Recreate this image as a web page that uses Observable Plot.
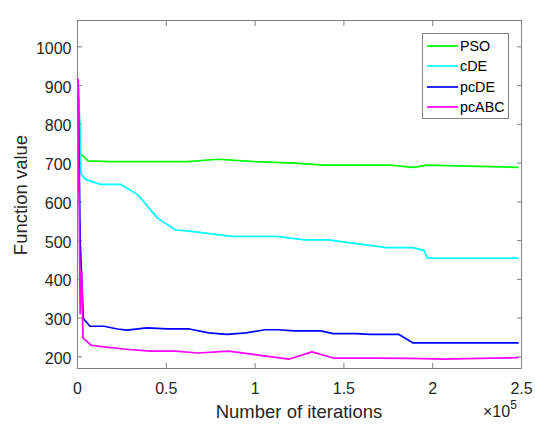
<!DOCTYPE html>
<html>
<head>
<meta charset="utf-8">
<script src="https://cdn.jsdelivr.net/npm/d3@7"></script>
<script src="https://cdn.jsdelivr.net/npm/@observablehq/plot@0.6"></script>
<style>
  body { margin: 0; background: #fff; font-family: Arial, "Liberation Sans", sans-serif; }
  #wrap { position: relative; width: 535px; height: 427px; overflow: hidden; }
  .lbl { position: absolute; color: #262626; white-space: nowrap; transform: translate(-50%, -50%); }
  #ytitle { left: 21px; top: 195px; font-size: 18.5px; transform: translate(-50%, -50%) rotate(-90deg); }
  #xtitle { left: 299px; top: 412px; font-size: 18.5px; }
  #xexp { position: absolute; left: 483px; top: 400px; font-size: 16px; color: #262626; white-space: nowrap; }
  #xexp sup { font-size: 12px; position: relative; top: -2px; }
  #legend { position: absolute; left: 422px; top: 33px; width: 87px; height: 86px; border: 1px solid #808080; background: #fff; box-sizing: border-box; }
  .row { position: absolute; left: 0; height: 20px; display: flex; align-items: center; font-size: 14.3px; color: #000; }
  .row svg { margin-left: 4px; margin-right: 2px; }
</style>
</head>
<body>
<div id="wrap"></div>
<script>
// ---- data (iterations, function value) ----
const seriesNames = ["PSO", "cDE", "pcDE", "pcABC"];
const seriesColors = ["#00ff00", "#00ffff", "#0000ff", "#ff00ff"];

const psoIter  = [500, 1700, 6000, 18000, 62000, 79000, 100000, 122000, 139000, 176000, 189000, 197000, 248000];
const psoValue = [900, 724, 706, 704, 704, 710, 704, 700, 695, 695, 689, 695, 689];

const cdeIter  = [500, 2000, 4500, 13000, 24500, 34000, 45000, 55000, 64000, 87000, 112000, 128000, 141000, 174000, 189000, 195000, 197000, 248000];
const cdeValue = [905, 672, 658, 645, 645, 618, 558, 528, 524, 511, 511, 502, 502, 482, 482, 475, 455, 455];

const pcdeIter  = [500, 1500, 3300, 7000, 15000, 22500, 28000, 39000, 50500, 63000, 74000, 84000, 95000, 105500, 113000, 122000, 137000, 144000, 156500, 165000, 181000, 189000, 248000];
const pcdeValue = [870, 500, 299, 279, 279, 272, 269, 275, 272, 272, 262, 258, 262, 270, 270, 267, 267, 260, 260, 258, 258, 236, 236];

const pcabcIter  = [300, 1500, 2300, 3100, 7700, 15000, 29000, 41000, 55000, 68000, 85000, 100000, 119000, 132000, 144000, 168000, 187000, 207000, 226000, 248000];
const pcabcValue = [917, 312, 419, 249, 230, 226, 219, 215, 215, 210, 215, 206, 194, 213, 197, 197, 196, 194, 196, 198];

const xTicks = [0, 50000, 100000, 150000, 200000, 250000];
const xTickLabels = ["0", "0.5", "1", "1.5", "2", "2.5"];
const yTicks = [200, 300, 400, 500, 600, 700, 800, 900, 1000];

const xDomain = [0, 250000];
const yDomain = [170, 1068];

// ---- build table ----
const seriesIters = [psoIter, cdeIter, pcdeIter, pcabcIter];
const seriesValues = [psoValue, cdeValue, pcdeValue, pcabcValue];
const rows = [];
seriesNames.forEach((name, k) => {
  seriesIters[k].forEach((it, i) => rows.push({series: name, iter: it, value: seriesValues[k][i]}));
});

const font = 'Arial, "Liberation Sans", sans-serif';
const axisColor = "#808080";
const textColor = "#262626";
const fmtX = d => xTickLabels[xTicks.indexOf(d)];
const fmtY = d => String(d);

const chart = Plot.plot({
  width: 535,
  height: 427,
  marginLeft: 77,
  marginRight: 14,
  marginTop: 20,
  marginBottom: 59,
  style: {fontFamily: font, background: "#fff", color: textColor},
  x: {domain: xDomain},
  y: {domain: yDomain},
  color: {domain: seriesNames, range: seriesColors},
  marks: [
    Plot.frame({stroke: axisColor, strokeWidth: 1}),
    // tick labels
    Plot.axisX({anchor: "bottom", ticks: xTicks, tickSize: 0, tickPadding: 14, tickFormat: fmtX, fontSize: 16, fill: textColor, label: null}),
    Plot.axisY({anchor: "left", ticks: yTicks, tickSize: 0, tickPadding: 6, dy: 2, tickFormat: fmtY, fontSize: 16, fill: textColor, label: null}),
    // inward tick marks
    Plot.axisX({anchor: "bottom", ticks: xTicks, tickSize: 5, dy: -5, tickFormat: () => "", stroke: axisColor, label: null}),
    Plot.axisX({anchor: "top", ticks: xTicks, tickSize: 5, dy: 5, tickFormat: () => "", stroke: axisColor, label: null}),
    Plot.axisY({anchor: "left", ticks: yTicks, tickSize: 5, dx: 5, tickFormat: () => "", stroke: axisColor, label: null}),
    Plot.axisY({anchor: "right", ticks: yTicks, tickSize: 5, dx: -5, tickFormat: () => "", stroke: axisColor, label: null}),
    // series
    Plot.line(rows, {x: "iter", y: "value", z: "series", stroke: "series", strokeWidth: 1.7})
  ]
});

const wrap = document.getElementById("wrap");
wrap.appendChild(chart);

// titles
const yt = document.createElement("div");
yt.className = "lbl"; yt.id = "ytitle"; yt.textContent = "Function value";
wrap.appendChild(yt);
const xt = document.createElement("div");
xt.className = "lbl"; xt.id = "xtitle"; xt.textContent = "Number of iterations";
wrap.appendChild(xt);
const xe = document.createElement("div");
xe.id = "xexp"; xe.innerHTML = "×10<sup>5</sup>";
wrap.appendChild(xe);

// legend
const lg = document.createElement("div");
lg.id = "legend";
seriesNames.forEach((name, i) => {
  const r = document.createElement("div");
  r.className = "row";
  r.style.top = (2 + i * 20.4) + "px";
  r.innerHTML = `<svg width="31" height="4"><line x1="0" y1="2" x2="31" y2="2" stroke="${seriesColors[i]}" stroke-width="1.7"/></svg><span>${name}</span>`;
  lg.appendChild(r);
});
wrap.appendChild(lg);
</script>
</body>
</html>
